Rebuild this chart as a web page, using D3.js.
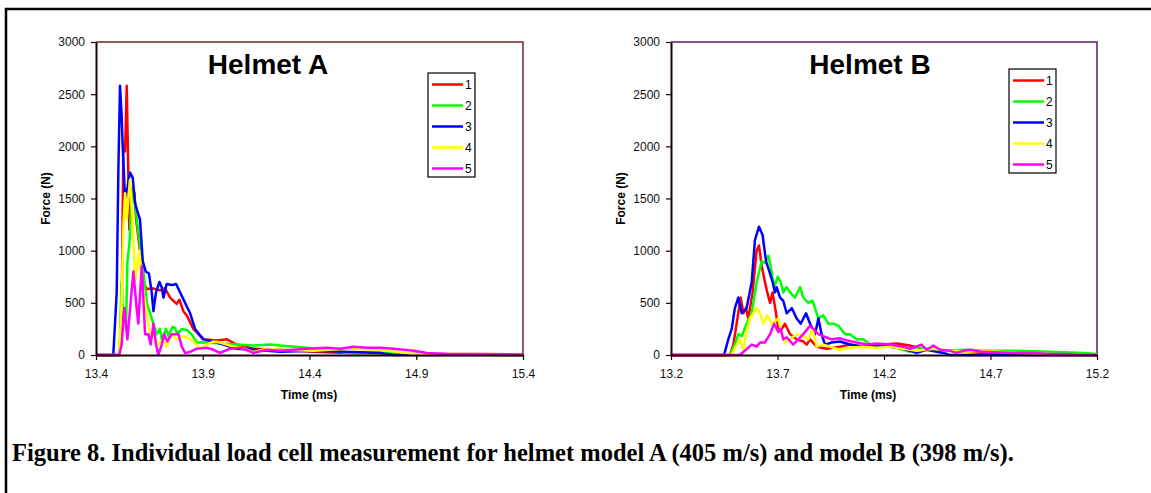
<!DOCTYPE html>
<html>
<head>
<meta charset="utf-8">
<script src="https://cdn.jsdelivr.net/npm/d3@7"></script>
<style>
  html, body { margin: 0; padding: 0; background: #fff; }
  svg { display: block; }
</style>
</head>
<body>
<svg id="fig" width="1151" height="493"></svg>
<script>
// series labels and colours (Excel defaults)
const cellNames = ["1", "2", "3", "4", "5"];
const cellColors = ["#ff0000", "#00ff00", "#0000ff", "#ffff00", "#ff00ff"];

// axis ticks
const forceTicks = [0, 500, 1000, 1500, 2000, 2500, 3000];
const timeTicksA = [13.4, 13.9, 14.4, 14.9, 15.4];
const timeTicksB = [13.2, 13.7, 14.2, 14.7, 15.2];

// Helmet A, [time (ms), force (N)] per load cell
const helmetA1 = [[13.4,0],[13.509,0],[13.52,300],[13.528,2000],[13.536,1950],[13.544,2580],[13.556,1200],[13.572,1600],[13.58,1550],[13.588,1300],[13.606,1000],[13.622,700],[13.638,630],[13.661,640],[13.70,620],[13.723,640],[13.747,550],[13.778,490],[13.791,530],[13.809,420],[13.825,380],[13.856,250],[13.903,150],[13.966,140],[14.013,150],[14.059,100],[14.138,60],[14.263,50],[14.419,30],[14.575,20],[14.731,20],[14.888,10],[15.2,10],[15.4,5]];
const helmetA2 = [[13.4,0],[13.509,0],[13.52,700],[13.525,400],[13.533,450],[13.541,300],[13.547,900],[13.556,1050],[13.567,1500],[13.575,1600],[13.591,1300],[13.603,1100],[13.622,800],[13.638,500],[13.661,350],[13.684,200],[13.70,250],[13.708,150],[13.728,250],[13.739,180],[13.759,270],[13.77,260],[13.781,200],[13.802,250],[13.825,240],[13.848,200],[13.872,120],[13.919,120],[13.981,110],[14.059,100],[14.138,90],[14.216,100],[14.263,90],[14.388,70],[14.497,50],[14.575,20],[14.731,20],[14.888,10],[15.044,5],[15.4,0]];
const helmetA3 = [[13.4,0],[13.481,0],[13.497,600],[13.505,1800],[13.5125,2580],[13.52,2300],[13.525,2000],[13.536,1500],[13.547,1600],[13.559,1750],[13.572,1700],[13.583,1450],[13.598,1350],[13.606,1300],[13.619,900],[13.633,800],[13.648,780],[13.661,600],[13.669,420],[13.681,600],[13.697,700],[13.708,650],[13.716,550],[13.731,680],[13.755,670],[13.775,680],[13.794,600],[13.817,500],[13.841,400],[13.864,250],[13.903,150],[13.95,130],[13.997,100],[14.059,60],[14.138,50],[14.263,30],[14.419,40],[14.575,30],[14.731,20],[14.794,0],[15.4,0]];
const helmetA4 = [[13.4,0],[13.509,0],[13.52,500],[13.528,1200],[13.536,1550],[13.544,1300],[13.559,1680],[13.572,1300],[13.583,700],[13.603,1000],[13.614,700],[13.63,500],[13.645,300],[13.656,150],[13.669,200],[13.692,100],[13.716,150],[13.731,80],[13.755,200],[13.778,150],[13.802,180],[13.825,170],[13.856,130],[13.888,60],[13.919,100],[13.95,130],[13.981,120],[14.028,90],[14.075,70],[14.138,30],[14.2,60],[14.263,50],[14.419,40],[14.575,60],[14.731,50],[14.809,30],[14.888,10],[15.044,0],[15.4,0]];
const helmetA5 = [[13.4,0],[13.509,0],[13.52,100],[13.533,450],[13.547,150],[13.575,800],[13.588,500],[13.598,300],[13.614,850],[13.63,200],[13.645,200],[13.656,100],[13.669,300],[13.681,100],[13.692,0],[13.708,100],[13.719,200],[13.734,130],[13.755,200],[13.786,200],[13.802,80],[13.817,20],[13.841,30],[13.872,60],[13.919,70],[13.95,50],[13.981,20],[14.028,60],[14.075,70],[14.138,20],[14.2,50],[14.263,40],[14.388,60],[14.481,70],[14.544,60],[14.606,80],[14.669,70],[14.731,70],[14.794,60],[14.888,40],[14.95,20],[15.044,10],[15.2,5],[15.294,0],[15.4,0]];

// Helmet B, [time (ms), force (N)] per load cell
const helmetB1 = [[13.2,0],[13.477,0],[13.493,100],[13.508,300],[13.527,550],[13.54,400],[13.552,450],[13.563,350],[13.583,600],[13.602,1000],[13.613,1050],[13.626,850],[13.641,700],[13.652,600],[13.665,500],[13.677,600],[13.693,400],[13.704,250],[13.72,250],[13.735,300],[13.759,200],[13.79,150],[13.821,130],[13.837,100],[13.853,150],[13.884,80],[13.931,60],[13.993,80],[14.04,100],[14.103,80],[14.197,100],[14.259,110],[14.322,90],[14.385,60],[14.447,50],[14.51,40],[14.588,30],[14.666,20],[14.823,10],[14.901,0],[15.2,0]];
const helmetB2 = [[13.2,0],[13.477,0],[13.5,100],[13.516,200],[13.532,180],[13.555,300],[13.579,400],[13.602,700],[13.626,900],[13.641,880],[13.657,950],[13.668,850],[13.684,650],[13.701,750],[13.715,700],[13.727,600],[13.743,650],[13.759,600],[13.782,550],[13.806,650],[13.821,550],[13.845,500],[13.865,520],[13.876,450],[13.892,350],[13.915,380],[13.939,300],[13.962,300],[13.986,280],[14.017,200],[14.04,200],[14.072,150],[14.103,150],[14.134,100],[14.197,90],[14.259,70],[14.322,30],[14.353,80],[14.4,60],[14.463,40],[14.51,40],[14.588,50],[14.666,40],[14.823,40],[14.979,30],[15.136,20],[15.2,10]];
const helmetB3 = [[13.2,0],[13.449,0],[13.469,150],[13.485,250],[13.5,450],[13.516,550],[13.532,400],[13.555,450],[13.579,700],[13.594,1100],[13.613,1230],[13.63,1150],[13.646,900],[13.662,800],[13.677,700],[13.688,600],[13.696,650],[13.712,550],[13.727,520],[13.743,400],[13.767,450],[13.79,350],[13.809,300],[13.834,400],[13.853,300],[13.876,200],[13.892,350],[13.907,200],[13.923,100],[13.954,120],[13.993,130],[14.04,100],[14.103,80],[14.166,90],[14.228,80],[14.291,60],[14.353,20],[14.4,50],[14.447,30],[14.479,20],[14.51,0],[15.2,0]];
const helmetB4 = [[13.2,0],[13.485,0],[13.508,100],[13.524,150],[13.54,50],[13.552,200],[13.571,350],[13.602,450],[13.618,400],[13.633,300],[13.652,380],[13.673,300],[13.704,350],[13.72,200],[13.735,120],[13.759,150],[13.79,200],[13.821,180],[13.845,150],[13.864,250],[13.884,80],[13.915,100],[13.946,80],[13.993,50],[14.04,70],[14.103,80],[14.166,70],[14.228,80],[14.291,60],[14.353,40],[14.432,60],[14.51,40],[14.588,30],[14.666,40],[14.823,20],[14.979,10],[15.136,0],[15.2,0]];
const helmetB5 = [[13.2,0],[13.524,0],[13.579,100],[13.602,80],[13.618,120],[13.641,120],[13.665,200],[13.684,300],[13.704,220],[13.715,250],[13.727,150],[13.743,170],[13.774,100],[13.798,150],[13.821,200],[13.853,280],[13.868,250],[13.892,200],[13.915,180],[13.954,150],[13.993,160],[14.025,140],[14.072,120],[14.119,100],[14.166,110],[14.228,100],[14.291,80],[14.322,60],[14.377,100],[14.4,50],[14.432,90],[14.463,50],[14.51,40],[14.541,20],[14.572,40],[14.604,50],[14.666,30],[14.745,25],[14.823,20],[14.901,20],[14.979,10],[15.058,10],[15.136,0],[15.2,0]];

const SANS = "'Liberation Sans', Arial, sans-serif";
const SERIF = "'Liberation Serif', 'Times New Roman', serif";

const svg = d3.select("#fig");

// page frame (only top and left edges are in view)
svg.append("path")
  .attr("d", "M6,493V9H1151")
  .attr("fill", "none")
  .attr("stroke", "#000")
  .attr("stroke-width", 2.5);

/**
 * One helmet panel: frame, traces, axes, title, legend
 */
function drawPanel(p) {
  const x = d3.scaleLinear()
    .domain([p.ticks[0], p.ticks[p.ticks.length - 1]])
    .range([p.left, p.right]);
  const y = d3.scaleLinear().domain([0, 3000]).range([p.bottom, p.top]);

  const g = svg.append("g");

  // top and right edges of the plot area
  g.append("path")
    .attr("d", `M${p.left},${p.top}H${p.right}V${p.bottom}`)
    .attr("fill", "none")
    .attr("stroke", p.frame)
    .attr("stroke-width", 1.5);

  // traces, cell 1 drawn first so cell 5 ends on top
  const line = d3.line().x((d) => x(d[0])).y((d) => y(d[1]));
  g.append("g")
    .selectAll("path")
    .data(p.series)
    .join("path")
    .attr("d", line)
    .attr("fill", "none")
    .attr("stroke", (_, i) => cellColors[i])
    .attr("stroke-width", 2.5)
    .attr("stroke-linejoin", "round");

  // axes
  const yAxis = g.append("g")
    .attr("transform", `translate(${p.left},0)`)
    .call(d3.axisLeft(y).tickValues(forceTicks).tickFormat(d3.format("d"))
      .tickSize(5).tickSizeOuter(0).tickPadding(6));
  const xAxis = g.append("g")
    .attr("transform", `translate(0,${p.bottom})`)
    .call(d3.axisBottom(x).tickValues(p.ticks).tickFormat(d3.format(".1f"))
      .tickSize(5).tickSizeOuter(0).tickPadding(9.5));
  [yAxis, xAxis].forEach((a) => {
    a.select(".domain").attr("stroke", "#1a0008").attr("stroke-width", 2);
    a.selectAll(".tick line").attr("stroke", "#1a0008").attr("stroke-width", 1.2);
    a.selectAll("text")
      .attr("font-family", SANS)
      .attr("font-size", 12)
      .attr("fill", "#111");
  });

  // axis titles
  g.append("text")
    .attr("x", p.timeLabelX)
    .attr("y", 399)
    .attr("text-anchor", "middle")
    .attr("font-family", SANS)
    .attr("font-weight", "bold")
    .attr("font-size", 12)
    .text("Time (ms)");
  g.append("text")
    .attr("transform", `translate(${p.left - 50},${(p.top + p.bottom) / 2}) rotate(-90)`)
    .attr("dy", "0.35em")
    .attr("text-anchor", "middle")
    .attr("font-family", SANS)
    .attr("font-weight", "bold")
    .attr("font-size", 12)
    .text("Force (N)");

  // chart title
  g.append("text")
    .attr("x", p.titleX)
    .attr("y", 74)
    .attr("text-anchor", "middle")
    .attr("font-family", SANS)
    .attr("font-weight", "bold")
    .attr("font-size", 28)
    .text(p.title);

  // legend
  const lg = g.append("g").attr("transform", `translate(${p.legend[0]},${p.legend[1]})`);
  lg.append("rect")
    .attr("width", 47)
    .attr("height", 104)
    .attr("fill", "#fff")
    .attr("stroke", "#000")
    .attr("stroke-width", 1.2);
  const row = lg.selectAll("g")
    .data(cellNames)
    .join("g")
    .attr("transform", (_, i) => `translate(0,${11.5 + i * 21})`);
  row.append("line")
    .attr("x1", 4)
    .attr("x2", 35)
    .attr("stroke", (_, i) => cellColors[i])
    .attr("stroke-width", 2.5);
  row.append("text")
    .attr("x", 37)
    .attr("dy", "0.36em")
    .attr("font-family", SANS)
    .attr("font-size", 12)
    .text((d) => d);
}

drawPanel({
  title: "Helmet A",
  ticks: timeTicksA,
  series: [helmetA1, helmetA2, helmetA3, helmetA4, helmetA5],
  left: 96, right: 523, top: 42, bottom: 355,
  frame: "#6b2a30",
  titleX: 268,
  timeLabelX: 309,
  legend: [428, 73],
});

drawPanel({
  title: "Helmet B",
  ticks: timeTicksB,
  series: [helmetB1, helmetB2, helmetB3, helmetB4, helmetB5],
  left: 671, right: 1097, top: 42, bottom: 355,
  frame: "#5a2060",
  titleX: 870,
  timeLabelX: 868,
  legend: [1009, 69],
});

// figure caption
svg.append("text")
  .attr("x", 12)
  .attr("y", 461)
  .attr("font-family", SERIF)
  .attr("font-weight", "bold")
  .attr("font-size", 24.5)
  .text("Figure 8. Individual load cell measurement for helmet model A (405 m/s) and model B (398 m/s).");
</script>
</body>
</html>
